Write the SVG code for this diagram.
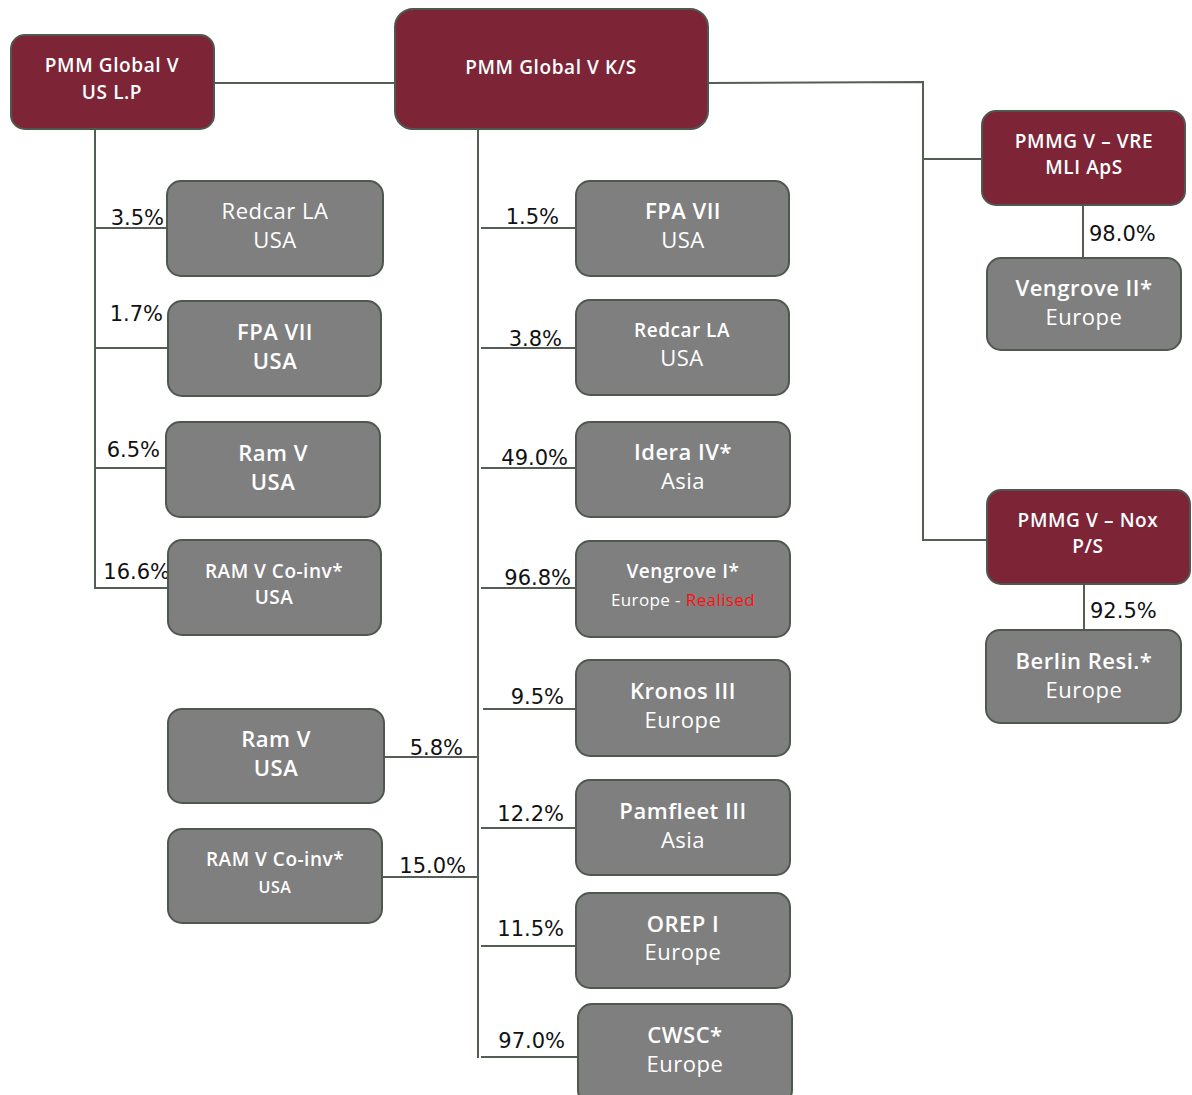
<svg xmlns="http://www.w3.org/2000/svg" width="1192" height="1095" viewBox="0 0 1192 1095">
<style>
.m{fill:#7d2436;stroke:#4f584f;stroke-width:2}
.g{fill:#7f7f7f;stroke:#4f584f;stroke-width:2}
.t{font-family:"Open Sans","Liberation Sans",sans-serif;fill:#fff;text-anchor:middle}
.tm{font-size:19px;font-weight:600;letter-spacing:0.6px}
.b{font-size:22px;font-weight:600;letter-spacing:0.5px}
.n{font-size:22px;font-weight:400;letter-spacing:0.5px}
.s{font-size:19px;font-weight:600;letter-spacing:0.5px}
.p{font-family:"DejaVu Sans","Liberation Sans",sans-serif;font-size:21px;fill:#111;font-weight:400}
#conn line,#conn polyline{stroke:#555e55;stroke-width:2;fill:none}
</style>
<rect width="1192" height="1095" fill="#fff"/>
<g id="conn">
<line x1="214" y1="83" x2="395" y2="83"/>
<polyline points="708,83 923,82 923,540 987,540"/>
<line x1="923" y1="159" x2="982" y2="159"/>
<line x1="1083" y1="205" x2="1083" y2="258"/>
<line x1="1084" y1="584" x2="1084" y2="630"/>
<line x1="95" y1="129" x2="95" y2="589"/>
<line x1="95" y1="228" x2="167" y2="228"/>
<line x1="95" y1="348" x2="168" y2="348"/>
<line x1="95" y1="468" x2="166" y2="468"/>
<line x1="95" y1="588" x2="168" y2="588"/>
<line x1="478" y1="129" x2="478" y2="1058"/>
<line x1="481" y1="228" x2="576" y2="228"/>
<line x1="481" y1="348" x2="576" y2="348"/>
<line x1="481" y1="468" x2="576" y2="468"/>
<line x1="481" y1="588" x2="576" y2="588"/>
<line x1="483" y1="709" x2="576" y2="709"/>
<line x1="481" y1="828" x2="576" y2="828"/>
<line x1="481" y1="946" x2="576" y2="946"/>
<line x1="481" y1="1057" x2="578" y2="1057"/>
<line x1="384" y1="757" x2="478" y2="757"/>
<line x1="382" y1="877" x2="478" y2="877"/>
</g>
<g id="labels">
<text class="p" x="164" y="225" text-anchor="end">3.5%</text>
<text class="p" x="163" y="321" text-anchor="end">1.7%</text>
<text class="p" x="160" y="457" text-anchor="end">6.5%</text>
<text class="p" x="170" y="579" text-anchor="end">16.6%</text>
<text class="p" x="559" y="224" text-anchor="end">1.5%</text>
<text class="p" x="562" y="346" text-anchor="end">3.8%</text>
<text class="p" x="568" y="465" text-anchor="end">49.0%</text>
<text class="p" x="571" y="585" text-anchor="end">96.8%</text>
<text class="p" x="564" y="704" text-anchor="end">9.5%</text>
<text class="p" x="564" y="821" text-anchor="end">12.2%</text>
<text class="p" x="564" y="936" text-anchor="end">11.5%</text>
<text class="p" x="565" y="1048" text-anchor="end">97.0%</text>
<text class="p" x="463" y="755" text-anchor="end">5.8%</text>
<text class="p" x="466" y="873" text-anchor="end">15.0%</text>
<text class="p" x="1089" y="241">98.0%</text>
<text class="p" x="1090" y="618">92.5%</text>
</g>
<g id="n-uslp"><rect class="m" x="11" y="35" width="203" height="94" rx="14"/><text class="t tm" x="112" y="72">PMM Global V</text><text class="t tm" x="112" y="99">US L.P</text></g>
<g id="n-ks"><rect class="m" x="395" y="9" width="313" height="120" rx="18"/><text class="t tm" x="551" y="74">PMM Global V K/S</text></g>
<g id="n-vre"><rect class="m" x="982" y="111" width="203" height="94" rx="14"/><text class="t tm" x="1084" y="148">PMMG V – VRE</text><text class="t tm" x="1084" y="174">MLI ApS</text></g>
<g id="n-veng2"><rect class="g" x="987" y="258" width="194" height="92" rx="14"/><text class="t b" x="1084" y="296">Vengrove II*</text><text class="t n" x="1084" y="325">Europe</text></g>
<g id="n-nox"><rect class="m" x="987" y="490" width="203" height="94" rx="14"/><text class="t tm" x="1088" y="527">PMMG V – Nox</text><text class="t tm" x="1088" y="553">P/S</text></g>
<g id="n-berlin"><rect class="g" x="986" y="630" width="195" height="93" rx="14"/><text class="t b" x="1084" y="669">Berlin Resi.*</text><text class="t n" x="1084" y="698">Europe</text></g>
<g id="n-l-redcar"><rect class="g" x="167" y="181" width="216" height="95" rx="14"/><text class="t n" x="275" y="219">Redcar LA</text><text class="t n" x="275" y="248">USA</text></g>
<g id="n-l-fpa"><rect class="g" x="168" y="301" width="213" height="95" rx="14"/><text class="t b" x="275" y="340">FPA VII</text><text class="t b" x="275" y="369">USA</text></g>
<g id="n-l-ram"><rect class="g" x="166" y="422" width="214" height="95" rx="14"/><text class="t b" x="273" y="461">Ram V</text><text class="t b" x="273" y="490">USA</text></g>
<g id="n-l-coinv"><rect class="g" x="168" y="540" width="213" height="95" rx="14"/><text class="t s" x="274" y="578">RAM V Co-inv*</text><text class="t s" x="274" y="604">USA</text></g>
<g id="n-ram2"><rect class="g" x="168" y="709" width="216" height="94" rx="14"/><text class="t b" x="276" y="747">Ram V</text><text class="t b" x="276" y="776">USA</text></g>
<g id="n-coinv2"><rect class="g" x="168" y="829" width="214" height="94" rx="14"/><text class="t s" x="275" y="866">RAM V Co-inv*</text><text class="t" x="275" y="893" style="font-size:16px;font-weight:600;letter-spacing:0.5px">USA</text></g>
<g id="n-m-fpa"><rect class="g" x="576" y="181" width="213" height="95" rx="14"/><text class="t b" x="683" y="219">FPA VII</text><text class="t n" x="683" y="248">USA</text></g>
<g id="n-m-redcar"><rect class="g" x="576" y="300" width="213" height="95" rx="14"/><text class="t s" x="682" y="337">Redcar LA</text><text class="t n" x="682" y="366">USA</text></g>
<g id="n-idera"><rect class="g" x="576" y="422" width="214" height="95" rx="14"/><text class="t b" x="683" y="460">Idera IV*</text><text class="t n" x="683" y="489">Asia</text></g>
<g id="n-veng1"><rect class="g" x="576" y="541" width="214" height="96" rx="14"/><text class="t s" x="683" y="578">Vengrove I*</text><text class="t" x="683" y="606" style="font-size:17px;letter-spacing:0.4px"><tspan>Europe - </tspan><tspan fill="#ff1010">Realised</tspan></text></g>
<g id="n-kronos"><rect class="g" x="576" y="660" width="214" height="96" rx="14"/><text class="t b" x="683" y="699">Kronos III</text><text class="t n" x="683" y="728">Europe</text></g>
<g id="n-pamfleet"><rect class="g" x="576" y="780" width="214" height="95" rx="14"/><text class="t b" x="683" y="819">Pamfleet III</text><text class="t n" x="683" y="848">Asia</text></g>
<g id="n-orep"><rect class="g" x="576" y="893" width="214" height="95" rx="14"/><text class="t b" x="683" y="932">OREP I</text><text class="t n" x="683" y="960">Europe</text></g>
<g id="n-cwsc"><rect class="g" x="578" y="1004" width="214" height="100" rx="14"/><text class="t b" x="685" y="1043">CWSC*</text><text class="t n" x="685" y="1072">Europe</text></g>
</svg>
